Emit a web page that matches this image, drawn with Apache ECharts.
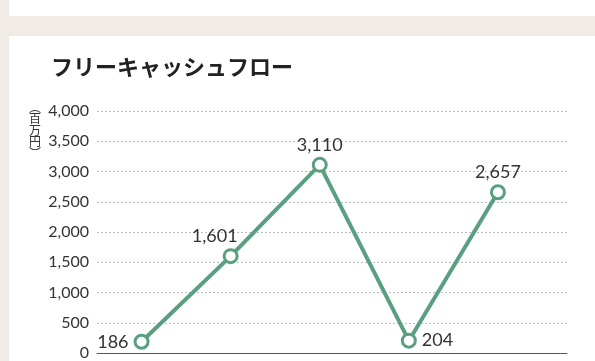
<!DOCTYPE html>
<html>
<head>
<meta charset="utf-8">
<script src="https://cdn.jsdelivr.net/npm/echarts@6/dist/echarts.min.js"></script>
<style>
html,body{margin:0;padding:0;width:595px;height:361px;overflow:hidden;background:#f0ebe5;}
#top{position:absolute;left:9px;top:0;width:586px;height:16px;background:#fff;}
#card{position:absolute;left:9px;top:36px;width:586px;height:325px;background:#fff;}
#chart{position:absolute;left:0;top:0;width:595px;height:361px;}
</style>
</head>
<body>
<div id="top"></div>
<div id="card"></div>
<div id="chart"></div>
<script>
// Data
const categories = ['2019', '2020', '2021', '2022', '2023'];
const values = [186, 1601, 3110, 204, 2657];
const yTicks = [0, 500, 1000, 1500, 2000, 2500, 3000, 3500, 4000];
const title = 'フリーキャッシュフロー';
const unit = '︵\n百\n万\n円\n︶';

// Styles
const green = '#5a9f80';
const labelStyles = [
  {position: 'left', distance: 5},
  {position: 'top', distance: 3, offset: [-16, 0]},
  {position: 'top', distance: 3},
  {position: 'right', distance: 5},
  {position: 'top', distance: 3}
];

const chart = echarts.init(document.getElementById('chart'), null, {renderer: 'canvas'});
const cjk = '"Noto Sans CJK JP", "Noto Sans", sans-serif';
const num = 'Lato, "Noto Sans", sans-serif';

chart.setOption({
  animation: false,
  backgroundColor: 'transparent',
  textStyle: {fontFamily: cjk},
  title: {
    text: title, left: 46, top: 51,
    textStyle: {fontSize: 22, fontWeight: 'bold', color: '#222', fontFamily: cjk}
  },
  graphic: [{
    type: 'text', left: 29, top: 101,
    style: {text: unit, fontSize: 12, lineHeight: 11.5, fill: '#333', fontFamily: cjk}
  }],
  grid: {left: 97, right: 28, top: 111, bottom: 8},
  xAxis: {
    type: 'value', min: -0.5, max: 4.775,
    axisLine: {show: true, onZero: false, lineStyle: {color: '#555', width: 1}},
    axisTick: {show: false}, axisLabel: {show: false}, splitLine: {show: false}
  },
  yAxis: {
    type: 'value', min: yTicks[0], max: yTicks[yTicks.length - 1], interval: 500,
    axisLine: {show: false}, axisTick: {show: false},
    axisLabel: {
      margin: 8, fontSize: 16, color: '#333', fontFamily: num,
      formatter: v => v.toLocaleString('en-US')
    },
    splitLine: {show: true, lineStyle: {color: '#bbb', type: [2, 2], width: 1}}
  },
  series: [{
    type: 'line',
    data: values.map((v, i) => ({
      name: categories[i],
      value: [i, v],
      label: Object.assign({}, labelStyles[i])
    })),
    lineStyle: {color: green, width: 4},
    itemStyle: {color: '#fff', borderColor: green, borderWidth: 3},
    symbol: 'circle', symbolSize: 13,
    label: {
      show: true, fontSize: 18, color: '#333', fontFamily: num,
      formatter: p => p.value[1].toLocaleString('en-US')
    },
    z: 3
  }]
});
</script>
</body>
</html>
